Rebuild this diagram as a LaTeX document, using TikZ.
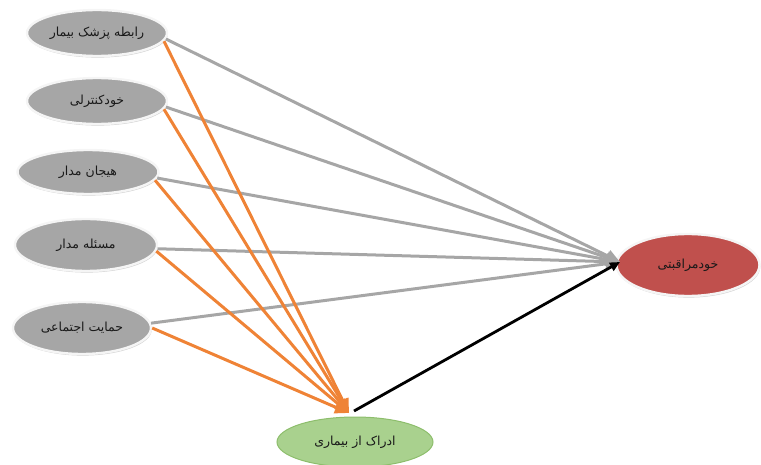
\documentclass[tikz,border=0pt]{standalone}
\usepackage{fontspec}
\newfontfamily\arabicfont[Script=Arabic]{DejaVu Sans}
\TeXXeTstate=1
\usetikzlibrary{arrows.meta,shapes.geometric,shadows}
\newcommand\rtltext[1]{{\arabicfont\beginR #1\endR}}
\definecolor{factorfill}{HTML}{A6A6A6}
\definecolor{carefill}{HTML}{C0504D}
\definecolor{percfill}{HTML}{A9D18E}
\definecolor{percline}{HTML}{8DBE6C}
\definecolor{greyline}{HTML}{A6A6A6}
\definecolor{orangeline}{HTML}{EF8336}
\begin{document}
\begin{tikzpicture}[x=1pt,y=-1pt,
  labeltext/.style={inner sep=0pt, font=\fontsize{12.5}{14}\selectfont, text=black!90},
  factor/.style={ellipse, fill=factorfill, draw=white!92!gray, line width=2.4pt,
    drop shadow={opacity=0.35, shadow xshift=0.8pt, shadow yshift=-1.6pt}, labeltext},
  outcome/.style={ellipse, fill=carefill, draw=white!92!gray, line width=2.4pt,
    drop shadow={opacity=0.35, shadow xshift=0.8pt, shadow yshift=-1.6pt}, labeltext},
  mediator/.style={ellipse, fill=percfill, draw=percline, line width=1pt, labeltext},
  greyarrow/.style={draw=greyline, line width=3pt, -{Triangle[length=14pt,width=12pt]}},
  orangearrow/.style={draw=orangeline, line width=3pt, -{Triangle[length=14pt,width=12pt]}},
  blackarrow/.style={draw=black, line width=2.8pt, -{Triangle[length=10pt,width=9pt]}}
]
\useasboundingbox (0,0) rectangle (761,465);

% predictor ellipses
\node[factor, minimum width=140pt, minimum height=46pt] (e1) at (97,33) {\rtltext{رابطه پزشک بیمار}};
\node[factor, minimum width=140pt, minimum height=46pt] (e2) at (97,101) {\rtltext{خودکنترلی}};
\node[factor, minimum width=141pt, minimum height=44pt] (e3) at (88,172) {\rtltext{هیجان مدار}};
\node[factor, minimum width=142pt, minimum height=52pt] (e4) at (86,245) {\rtltext{مسئله مدار}};
\node[factor, minimum width=138pt, minimum height=52pt] (e5) at (82,328) {\rtltext{حمایت اجتماعی}};

% outcome and mediator
\node[outcome, minimum width=143pt, minimum height=62pt] (care) at (688,265) {\rtltext{خودمراقبتی}};
\node[mediator, minimum width=156pt, minimum height=50pt] (perc) at (355,442) {\rtltext{ادراک از بیماری}};

\coordinate (carein) at (620,262);
\coordinate (percin) at (349,413);
\coordinate (percout) at (354,411);

% direct paths
\draw[greyarrow] (e1.-5) -- (carein);
\draw[greyarrow] (e2.-5) -- (carein);
\draw[greyarrow] (e3.-5) -- (carein);
\draw[greyarrow] (e4.-3) -- (carein);
\draw[greyarrow] (e5.4) -- (carein);

% paths through the mediator
\draw[orangearrow] (e1.-7) -- (percin);
\draw[orangearrow] (e2.-7) -- (percin);
\draw[orangearrow] (e3.-7) -- (percin);
\draw[orangearrow] (e4.-5) -- (percin);
\draw[orangearrow] (e5.0) -- (percin);

\draw[blackarrow] (percout) -- (carein);
\end{tikzpicture}
\end{document}
